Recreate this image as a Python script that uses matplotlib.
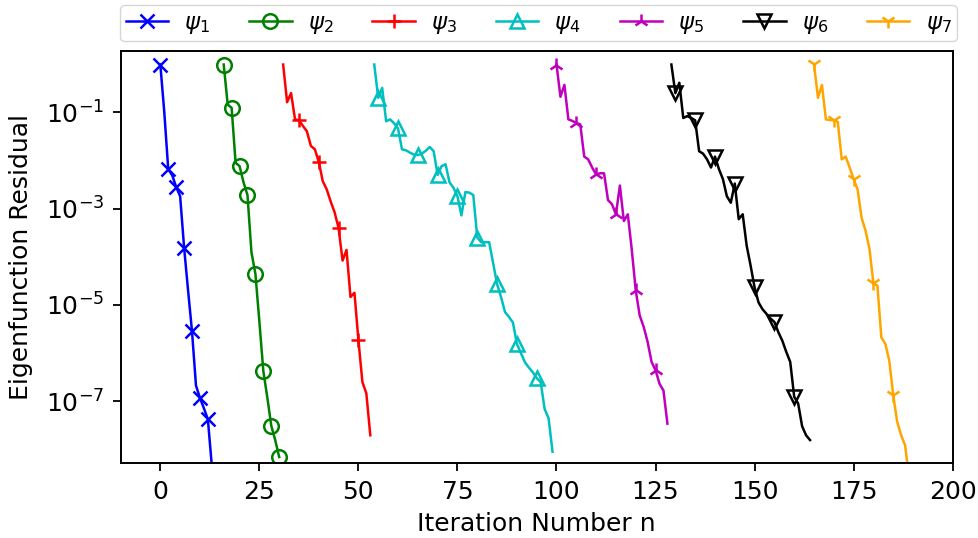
import numpy as np
import matplotlib
matplotlib.use("Agg")
import matplotlib.pyplot as plt
from matplotlib.ticker import FixedLocator, NullLocator, LogFormatterSciNotation

# iteration numbers for each eigenfunction
n_psi1 = list(range(0, 14))
n_psi2 = list(range(16, 31))
n_psi3 = list(range(31, 54))
n_psi4 = list(range(54, 100))
n_psi5 = list(range(100, 129))
n_psi6 = list(range(129, 165))
n_psi7 = list(range(165, 190))

# eigenfunction residuals
res_psi1 = [0.98, 1.0e-1, 6.5e-3, 4.9e-3, 2.8e-3, 1.8e-3, 1.55e-4, 2.0e-5,
            2.8e-6, 2.1e-7, 1.17e-7, 7.1e-8, 4.2e-8, 4.5e-9]
res_psi2 = [0.98, 1.45e-1, 1.23e-1, 8.9e-3, 7.6e-3, 3.5e-3, 1.9e-3, 1.23e-4,
            4.4e-5, 4.5e-6, 4.2e-7, 1.2e-7, 3.1e-8, 1.55e-8, 6.9e-9]
res_psi3 = [0.98, 1.62e-1, 2.5e-1, 7.1e-2, 6.8e-2, 5.2e-2, 4.0e-2, 2.0e-2,
            1.7e-2, 9.3e-3, 3.7e-3, 2.5e-3, 1.4e-3, 8.3e-4, 3.9e-4, 8.3e-5,
            1.38e-4, 1.45e-5, 1.78e-5, 1.86e-6, 2.5e-7, 1.45e-7, 1.95e-8]
res_psi4 = [0.98, 2.0e-1, 3.2e-1, 6.5e-2, 7.1e-2, 5.9e-2, 4.6e-2, 1.7e-2,
            1.62e-2, 1.45e-2, 1.32e-2, 1.29e-2, 1.38e-2, 1.58e-2, 1.9e-2,
            1.55e-2, 5.0e-3, 7.6e-3, 8.3e-3, 3.5e-3, 2.7e-3, 1.8e-3, 7.2e-4,
            2.2e-3, 2.14e-3, 1.9e-3, 2.5e-4, 2.0e-4, 2.0e-4, 2.0e-4, 7.4e-5,
            2.7e-5, 1.45e-5, 7.1e-6, 5.6e-6, 4.3e-6, 1.55e-6, 1.0e-6, 6.5e-7,
            5.0e-7, 4.0e-7, 3.0e-7, 2.5e-7, 6.9e-8, 4.4e-8, 8.9e-9]
res_psi5 = [0.98, 2.1e-1, 3.7e-1, 7.1e-2, 6.6e-2, 6.0e-2, 5.6e-2, 1.2e-2,
            1.05e-2, 7.1e-3, 5.1e-3, 5.4e-3, 5.4e-3, 1.5e-3, 1.23e-3, 7.6e-4,
            3.0e-3, 5.5e-4, 7.6e-4, 1.4e-4, 2.0e-5, 6.0e-6, 3.5e-6, 1.7e-6,
            6.5e-7, 4.4e-7, 2.3e-7, 1.66e-7, 3.4e-8]
res_psi6 = [0.98, 2.5e-1, 4.1e-1, 7.6e-2, 8.3e-2, 7.6e-2, 6.8e-2, 1.55e-2,
            1.38e-2, 1.05e-2, 7.1e-3, 1.2e-2, 6.6e-3, 4.1e-3, 1.8e-3, 1.32e-3,
            3.3e-3, 6.0e-4, 7.6e-4, 1.7e-4, 6.5e-5, 2.3e-5, 1.12e-5, 8.1e-6,
            6.5e-6, 5.2e-6, 4.4e-6, 2.7e-6, 1.8e-6, 1.05e-6, 6.5e-7, 1.23e-7,
            8.9e-8, 3.0e-8, 1.95e-8, 1.55e-8]
res_psi7 = [1.0, 2.0e-1, 3.7e-1, 7.1e-2, 6.9e-2, 6.8e-2, 6.3e-2, 1.05e-2,
            1.2e-2, 7.1e-3, 4.1e-3, 2.5e-3, 6.5e-4, 3.5e-4, 1.45e-4, 2.8e-5,
            2.5e-5, 2.1e-6, 1.55e-6, 6.9e-7, 1.32e-7, 3.7e-8, 1.95e-8, 1.2e-8,
            2.5e-9]

labels = [r'$\psi_1$', r'$\psi_2$', r'$\psi_3$', r'$\psi_4$',
          r'$\psi_5$', r'$\psi_6$', r'$\psi_7$']

Nlist = [n_psi1, n_psi2, n_psi3, n_psi4, n_psi5, n_psi6, n_psi7]
Rlist = [res_psi1, res_psi2, res_psi3, res_psi4, res_psi5, res_psi6, res_psi7]
colours = ['b', 'g', 'r', 'c', 'm', 'k', 'orange']
markers = ['x', 'o', '+', '^', '2', 'v', '1']
every = [2, 2, (4, 5), (1, 5), 5, (1, 5), 5]  # marker spacing

plt.rcParams['font.size'] = 18

fig = plt.figure(figsize=(9.79, 5.38), dpi=100)
ax = fig.add_axes([0.1233, 0.1388, 0.8498, 0.767])

for n, r, c, m, me, lab in zip(Nlist, Rlist, colours, markers, every, labels):
    ax.semilogy(n, r, color=c, marker=m, markevery=me, label=lab, lw=1.8,
                ms=10.5, mew=1.8, mfc='none')

ax.set_xlim(-10, 200)
ax.set_ylim(5.1e-9, 1.9)
ax.yaxis.set_major_locator(FixedLocator([1e-1, 1e-3, 1e-5, 1e-7]))
ax.yaxis.set_major_formatter(LogFormatterSciNotation())
ax.yaxis.set_minor_locator(NullLocator())
ax.set_xticks([0, 25, 50, 75, 100, 125, 150, 175, 200])
ax.tick_params(length=6, width=1.3, pad=6)
for s in ax.spines.values():
    s.set_linewidth(1.4)

ax.set_xlabel('Iteration Number n', labelpad=6)
ax.set_ylabel('Eigenfunction Residual', labelpad=9)

ax.legend(loc='upper left', bbox_to_anchor=(0.1226, 0.9907, 0.855, 0.0),
          bbox_transform=fig.transFigure, mode='expand', ncol=7,
          borderaxespad=0, fontsize=16.5, handlelength=1.85,
          handletextpad=0.7, borderpad=0.25)

fig.savefig('out.png', dpi=100)
